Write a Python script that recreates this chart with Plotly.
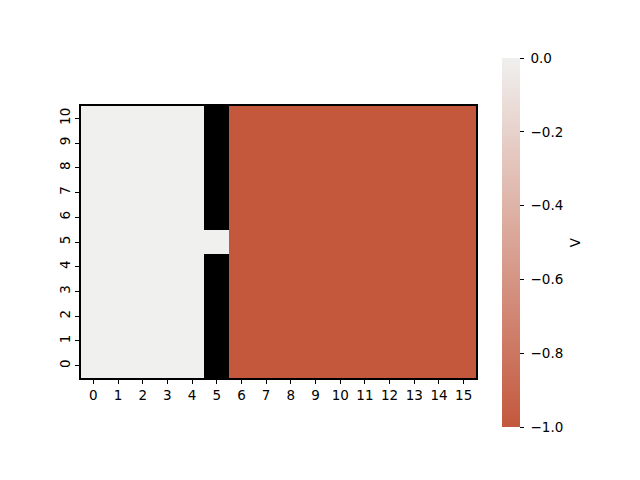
import plotly.graph_objects as go
import numpy as np

cols = list(range(16))
rows = list(range(11))
# value per column (col 5 mostly missing -> shown black)
col_values = [0, 0, 0, 0, 0, None, -1, -1, -1, -1, -1, -1, -1, -1, -1, -1]
# exceptions: (row, col, value)
exceptions = [(5, 5, 0)]
cb_ticks = [0.0, -0.2, -0.4, -0.6, -0.8, -1.0]
cb_label = "V"

z = []
for r in rows:
    row = []
    for c in cols:
        v = col_values[c]
        row.append(np.nan if v is None else v)
    z.append(row)
for r, c, v in exceptions:
    z[r][c] = v

F = dict(family="DejaVu Sans", size=13.5, color="black")

fig = go.Figure(go.Heatmap(
    z=z, x=cols, y=rows,
    zmin=-1, zmax=0,
    colorscale=[[0, "#c3583d"], [1, "#f0f0ef"]],
    hoverongaps=False,
    colorbar=dict(
        tickvals=cb_ticks,
        ticktext=["\u00a0" + f"{t:.1f}".replace("-", "−") for t in cb_ticks],
        ticks="outside", ticklen=4, tickcolor="black",
        tickfont=F,
        thickness=18, thicknessmode="pixels",
        len=369, lenmode="pixels",
        x=1.066, xanchor="left", y=0.498, yanchor="middle",
        xpad=0, ypad=0,
        outlinewidth=0,
    ),
))

fig.add_annotation(text=cb_label, xref="paper", yref="paper", x=1.25, y=0.498,
                   showarrow=False, textangle=-90, font=F,
                   xanchor="center", yanchor="middle")

fig.update_layout(
    width=640, height=480,
    margin=dict(l=81, r=164, t=106, b=102),
    paper_bgcolor="white", plot_bgcolor="black",
    font=F,
    xaxis=dict(range=[-0.5, 15.5], tickvals=cols, ticks="outside", ticklen=4,
               tickfont=F,
               tickcolor="black", showline=True, mirror=True, linecolor="black",
               linewidth=1.5, showgrid=False, zeroline=False),
    yaxis=dict(range=[-0.5, 10.5], tickvals=rows, ticks="outside", ticklen=4,
               tickfont=F,
               tickcolor="black", tickangle=-90, showline=True, mirror=True,
               linecolor="black", linewidth=1.5, showgrid=False, zeroline=False),
)

fig.write_html("out.html")
